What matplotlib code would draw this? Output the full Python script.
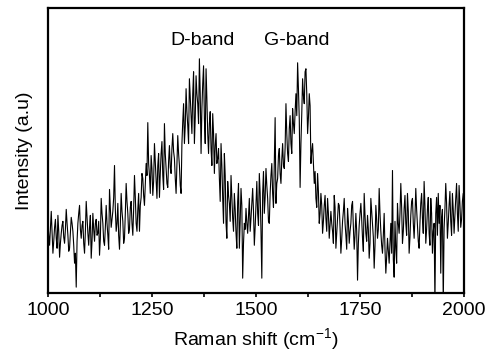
# Raman spectrum with D and G bands

import numpy as np
import matplotlib
matplotlib.use("Agg")
import matplotlib.pyplot as plt
from matplotlib.ticker import MultipleLocator

# wavenumber grid (cm^-1), 2 cm^-1 step
raman_shift = np.arange(1000, 2001, 2)

# intensity (a.u.), one row = 20 cm^-1
intensity = [
    70, 58, 48, 66, 82, 60, 40, 52, 66, 74,      # 1000
    55, 45, 78, 62, 36, 50, 60, 68, 72, 56,      # 1020
    50, 64, 84, 70, 58, 42, 45, 60, 76, 70,      # 1040
    62, 48, 30, 40, 6, 52, 70, 80, 88, 64,       # 1060
    55, 68, 72, 50, 40, 62, 92, 76, 60, 48,      # 1080
    66, 78, 35, 52, 80, 64, 52, 70, 74, 58,      # 1100
    60, 72, 38, 55, 95, 80, 70, 52, 48, 66,      # 1120
    88, 70, 58, 44, 104, 86, 66, 74, 82, 96,     # 1140
    128, 84, 62, 70, 90, 58, 44, 68, 100, 82,    # 1160
    72, 50, 55, 80, 110, 92, 80, 60, 64, 86,     # 1180
    92, 70, 58, 84, 118, 96, 70, 62, 84, 100,    # 1200
    62, 88, 96, 120, 115, 98, 88, 110, 130, 118,  # 1220
    171, 130, 118, 100, 138, 125, 98, 112, 150, 132,  # 1240
    112, 95, 128, 140, 96, 120, 140, 152, 118, 104,   # 1260
    170, 140, 125, 110, 106, 132, 148, 126, 120, 145,  # 1280
    160, 142, 135, 115, 100, 130, 158, 140, 128, 108,  # 1300
    100, 150, 172, 190, 150, 168, 205, 182, 168, 150,  # 1320
    215, 196, 178, 160, 200, 222, 150, 176, 218, 200,  # 1340
    190, 170, 235, 200, 140, 185, 210, 228, 175, 150,  # 1360
    225, 195, 160, 140, 170, 182, 145, 128, 180, 160,  # 1380
    120, 148, 160, 130, 135, 145, 115, 92, 150, 128,   # 1400
    95, 70, 140, 118, 70, 55, 112, 98, 90, 72,         # 1420
    118, 96, 75, 62, 100, 84, 60, 45, 92, 110,         # 1440
    45, 72, 105, 88, 15, 50, 70, 64, 85, 70,           # 1460
    60, 78, 95, 62, 75, 90, 105, 82, 48, 66,           # 1480
    90, 112, 80, 68, 120, 100, 62, 15, 100, 122,       # 1500
    80, 96, 125, 108, 95, 72, 70, 100, 118, 130,       # 1520
    100, 86, 130, 176, 90, 110, 115, 138, 145, 120,    # 1540
    110, 134, 150, 128, 125, 146, 190, 160, 140, 132,  # 1560
    165, 178, 150, 140, 185, 170, 160, 182, 200, 178,  # 1580
    231, 205, 175, 106, 150, 180, 215, 198, 190, 222,  # 1600
    225, 200, 160, 176, 200, 188, 130, 142, 150, 130,  # 1620
    110, 122, 95, 86, 120, 102, 70, 80, 100, 88,       # 1640
    60, 72, 88, 98, 75, 62, 95, 80, 55, 68,            # 1660
    82, 70, 62, 50, 98, 86, 45, 60, 76, 90,            # 1680
    88, 66, 40, 54, 72, 82, 95, 70, 58, 44,            # 1700
    85, 72, 50, 62, 70, 88, 92, 66, 44, 58,            # 1720
    80, 62, 13, 50, 68, 80, 90, 74, 55, 42,            # 1740
    100, 78, 60, 52, 78, 64, 35, 50, 95, 82,           # 1760
    70, 56, 25, 48, 88, 74, 55, 64, 105, 80,           # 1780
    62, 48, 40, 58, 80, 44, 20, 36, 55, 42,            # 1800
    30, 50, 70, 40, 123, 34, 16, 72, 45, 30,           # 1820
    90, 70, 60, 80, 110, 86, 50, 62, 85, 98,           # 1840
    70, 58, 100, 82, 40, 56, 78, 92, 95, 70,           # 1860
    55, 76, 105, 84, 68, 52, 45, 70, 90, 100,          # 1880
    75, 60, 112, 88, 50, 64, 84, 96, 60, 48,           # 1900
    95, 80, 40, 62, 70, -10, 80, 96, 58, 100,          # 1920
    70, 88, 20, 76, 84, -10, 65, 84, 110, 90,          # 1940
    55, 70, 88, 102, 72, 58, 100, 84, 60, 78,          # 1960
    95, 110, 80, 62, 108, 90, 66, 74, 92, 100,         # 1980
    85,                                                # 2000
]

band_labels = ["D-band", "G-band"]
band_pos = [1372, 1599]

plt.rcParams['font.family'] = ['Liberation Sans', 'DejaVu Sans']

fig = plt.figure(figsize=(4.89, 3.61), dpi=100)
ax = fig.add_axes([0.098, 0.188, 0.851, 0.790])

ax.plot(raman_shift, intensity, color='black', linewidth=0.8)

for lab, pos in zip(band_labels, band_pos):
    ax.text(pos, 253, lab, ha='center', va='center', fontsize=14)

ax.set_xlim(1000, 2000)
ax.set_ylim(0, 286)
ax.xaxis.set_major_locator(MultipleLocator(250))
ax.xaxis.set_minor_locator(MultipleLocator(125))
ax.set_yticks([])
ax.tick_params(axis='x', which='both', direction='out', length=3, width=1.2, labelsize=14)

for sp in ax.spines.values():
    sp.set_linewidth(1.6)

ax.set_xlabel("Raman shift (cm$^{\\mathregular{-1}}$)", fontsize=14, labelpad=5)
ax.set_ylabel("Intensity (a.u)", fontsize=14, labelpad=11)

fig.savefig("out.png", dpi=100)
